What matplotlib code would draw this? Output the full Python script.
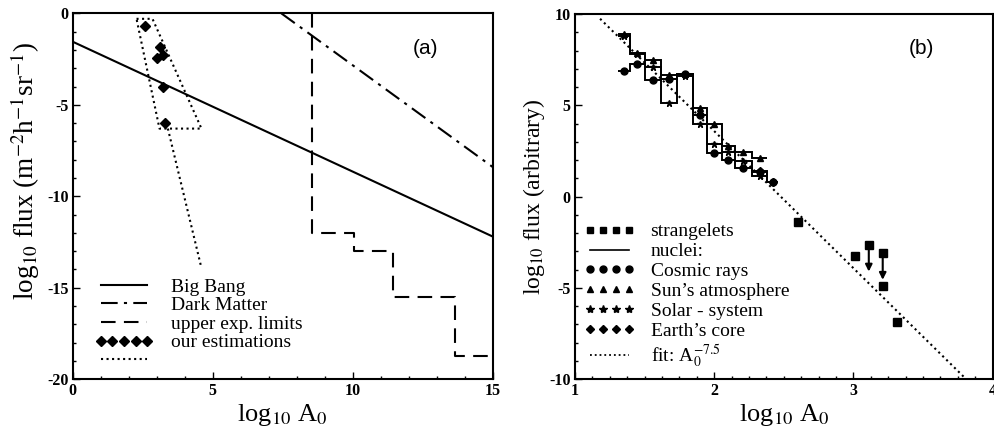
import matplotlib
matplotlib.use('Agg')
import matplotlib.pyplot as plt
from matplotlib.ticker import MultipleLocator
import numpy as np

plt.rcParams['font.family'] = ['Liberation Serif', 'DejaVu Serif']
plt.rcParams['mathtext.fontset'] = 'stix'
plt.rcParams['axes.unicode_minus'] = False
plt.rcParams['xtick.direction'] = 'in'
plt.rcParams['ytick.direction'] = 'in'

# ---------------- panel (a) data ----------------
bb_x = [0, 15]
bb_y = [-1.55, -12.2]
dm_x = [7.45, 15]
dm_y = [0, -8.4]
lim_x = [8.55, 8.55, 10.05, 10.05, 11.45, 11.45, 13.65, 13.65, 15]
lim_y = [0, -12.0, -12.0, -13.0, -13.0, -15.5, -15.5, -18.75, -18.75]
est_x = [2.6, 3.12, 3.0, 3.21, 3.21, 3.31]
est_y = [-0.7, -1.85, -2.45, -2.28, -4.04, -6.0]
box_x = [2.28, 2.85, 4.6, 3.1, 2.28]
box_y = [-0.3, -0.3, -6.3, -6.3, -0.3]
tail_x = [3.4, 4.58]
tail_y = [-6.3, -13.8]

# ---------------- panel (b) data ----------------
edges = [1.31, 1.395, 1.50, 1.62, 1.73, 1.845, 1.946, 2.054, 2.15, 2.27, 2.38, 2.46]
cosmic = [6.88, 7.28, 6.4, 6.45, 6.75, 4.5, 2.38, 2.0, 1.55, 1.37, 0.8]
sun = [8.9, 7.9, 7.5, 6.65, 6.75, 4.85, 4.0, 2.8, 2.45, 2.1]
solar = [8.8, 7.8, 7.1, 5.15, 6.6, 4.0, 2.9, 2.45, 1.95, 1.15]
earth = [1.4, 0.8]
str_x = [2.60, 3.01, 3.11, 3.21, 3.21, 3.31]
str_y = [-1.37, -3.23, -2.64, -3.1, -4.89, -6.84]
ul_x = [3.11, 3.21]
ul_y = [-2.64, -3.1]
ul_to = [-4.1, -4.55]
fit_x = [1.18, 3.81]
fit_y = [9.75, -10.0]

fig = plt.figure(figsize=(9.94, 4.30), dpi=100)
ax1 = fig.add_axes([0.0731, 0.118, 0.4226, 0.851])
ax2 = fig.add_axes([0.5785, 0.118, 0.4202, 0.849])

lw = 1.5
ax1.plot(bb_x, bb_y, color='black', lw=lw, label='Big Bang')
ax1.plot(dm_x, dm_y, color='black', lw=lw, dashes=(8, 3, 1.5, 3), label='Dark Matter')
ax1.plot(lim_x, lim_y, color='black', lw=lw, dashes=(7, 4), label='upper exp. limits')
ax1.plot(est_x, est_y, ls='none', marker='D', ms=5, color='black', label='our estimations')
ax1.plot(box_x, box_y, color='black', lw=1.5, ls=':', label=' ')
ax1.plot(tail_x, tail_y, color='black', lw=1.5, ls=':')

ax1.set_xlim(0, 15)
ax1.set_ylim(-20, 0)
ax1.xaxis.set_major_locator(MultipleLocator(5))
ax1.xaxis.set_minor_locator(MultipleLocator(1))
ax1.yaxis.set_major_locator(MultipleLocator(5))
ax1.yaxis.set_minor_locator(MultipleLocator(1))
ax1.set_xlabel('log$_{10}$ A$_0$', fontsize=19, labelpad=2)
ax1.set_ylabel('log$_{10}$ flux (m$^{-2}$h$^{-1}$sr$^{-1}$)', fontsize=19.5, labelpad=0)
ax1.yaxis.set_label_coords(-0.072, 0.57)
ax1.text(0.84, 0.905, '(a)', transform=ax1.transAxes, fontsize=15,
         family='Liberation Sans', ha='center', va='center')
ax1.legend(loc='lower left', bbox_to_anchor=(0.02, -0.012), frameon=False, fontsize=14,
           numpoints=5, handlelength=3.0, handletextpad=0.9, labelspacing=0.05,
           borderaxespad=0.3)

# panel (b)
def steps(ax, vals, start, **kw):
    e = edges[start:start + len(vals) + 1]
    ax.stairs(vals, e, color='black', lw=1.4, baseline=None)
    c = [(e[i] + e[i + 1]) / 2 for i in range(len(vals))]
    ax.plot(c, vals, ls='none', color='black', **kw)

steps(ax2, cosmic, 0, marker='o', ms=5)
steps(ax2, sun, 0, marker='^', ms=5)
steps(ax2, solar, 0, marker='*', ms=5)
steps(ax2, earth, 9, marker='D', ms=4)

ax2.plot(fit_x, fit_y, color='black', lw=1.5, ls=':')
ax2.plot(str_x, str_y, ls='none', marker='s', ms=5.5, color='black')
for x0, y0, y1 in zip(ul_x, ul_y, ul_to):
    ax2.annotate('', xy=(x0, y1), xytext=(x0, y0),
                 arrowprops=dict(arrowstyle='-|>', color='black', lw=1.5,
                                 mutation_scale=10, shrinkA=0, shrinkB=0))

# legend entries
h = []
h.append(ax2.plot([], [], ls='none', marker='s', ms=5, color='black', label='strangelets')[0])
h.append(ax2.plot([], [], lw=1.2, color='black', label='nuclei:')[0])
h.append(ax2.plot([], [], ls='none', marker='o', ms=5, color='black', label='Cosmic rays')[0])
h.append(ax2.plot([], [], ls='none', marker='^', ms=5, color='black', label='Sun\u2019s atmosphere')[0])
h.append(ax2.plot([], [], ls='none', marker='*', ms=6, color='black', label='Solar - system')[0])
h.append(ax2.plot([], [], ls='none', marker='D', ms=4, color='black', label='Earth\u2019s core')[0])
h.append(ax2.plot([], [], lw=1.3, ls=':', color='black', label='fit: A$_0^{-7.5}$')[0])
ax2.legend(handles=h, loc='lower left', bbox_to_anchor=(-0.01, -0.012), frameon=False, fontsize=14,
           numpoints=4, handlelength=2.6, handletextpad=0.8, labelspacing=0.12,
           borderaxespad=0.3)

ax2.set_xlim(1, 4)
ax2.set_ylim(-10, 10)
ax2.xaxis.set_major_locator(MultipleLocator(1))
ax2.xaxis.set_minor_locator(MultipleLocator(0.125))
ax2.yaxis.set_major_locator(MultipleLocator(5))
ax2.yaxis.set_minor_locator(MultipleLocator(1))
ax2.set_xlabel('log$_{10}$ A$_0$', fontsize=19, labelpad=2)
ax2.set_ylabel('log$_{10}$ flux (arbitrary)', fontsize=17, labelpad=2)
ax2.text(0.83, 0.905, '(b)', transform=ax2.transAxes, fontsize=15,
         family='Liberation Sans', ha='center', va='center')

for ax in (ax1, ax2):
    ax.tick_params(which='major', length=5, width=1, labelsize=11.5, pad=3)
    ax.tick_params(which='minor', length=2.5, width=1)
    ax.tick_params(top=False, right=False)
    for lab in ax.get_xticklabels() + ax.get_yticklabels():
        lab.set_fontweight('bold')
    for s in ax.spines.values():
        s.set_linewidth(1.5)

fig.savefig('out.png', dpi=100)
